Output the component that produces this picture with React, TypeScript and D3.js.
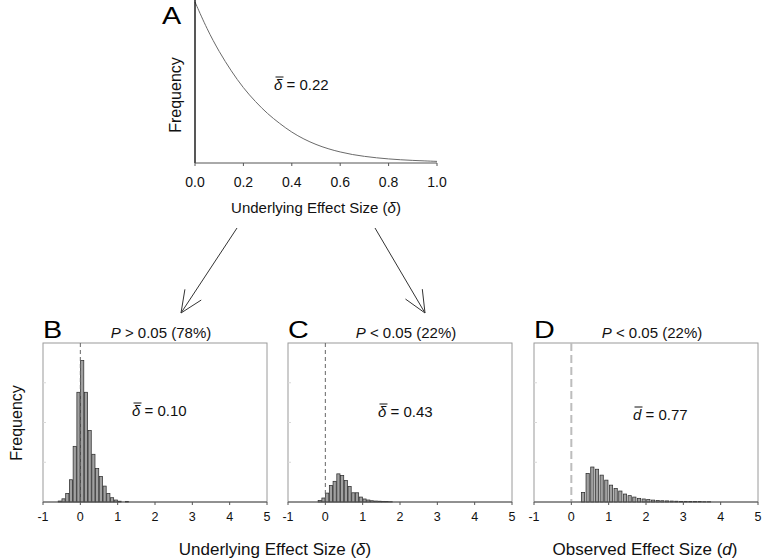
import React from "react";
import * as d3 from "d3";

// ---------- Data ----------
// Panel A: curve of underlying effect size distribution
const curveX = [0, 0.05, 0.1, 0.15, 0.2, 0.25, 0.3, 0.35, 0.4, 0.45, 0.5, 0.55, 0.6, 0.65, 0.7, 0.75, 0.8, 0.85, 0.9, 0.95, 1.0];
const curveY = [1.0, 0.83, 0.69, 0.57, 0.465, 0.38, 0.305, 0.245, 0.19, 0.148, 0.114, 0.088, 0.068, 0.052, 0.041, 0.032, 0.025, 0.02, 0.016, 0.013, 0.01];
const aTicks = [0, 0.2, 0.4, 0.6, 0.8, 1.0];

// Histograms
const histTicks = [-1, 0, 1, 2, 3, 4, 5];
const bStart = -0.6;
const bWidth = 0.1;
const bHeights = [0.006, 0.02, 0.054, 0.14, 0.35, 0.69, 0.89, 0.69, 0.45, 0.3, 0.21, 0.16, 0.1, 0.054, 0.027, 0.0125, 0.005, 0, 0.004];
const cStart = -0.2;
const cWidth = 0.1;
const cHeights = [0.01, 0.025, 0.056, 0.104, 0.13, 0.177, 0.167, 0.135, 0.098, 0.058, 0.058, 0.031, 0.019, 0.0125, 0.008, 0.006, 0.005, 0.004, 0.003, 0.002];
const dStart = 0.25;
const dWidth = 0.125;
const dHeights = [0.06, 0.18, 0.22, 0.206, 0.169, 0.1375, 0.106, 0.085, 0.069, 0.05, 0.04, 0.031, 0.023, 0.019, 0.015, 0.012, 0.01, 0.008, 0.007, 0.006, 0.005, 0.004, 0.004, 0.003, 0.003, 0.003, 0.002, 0.002];

const FONT = "'Liberation Sans', Arial, Helvetica, sans-serif";

type PanelProps = {
  left: number;
  letter: string;
  pSign: string;
  pText: string;
  start: number;
  width: number;
  heights: number[];
  barFrac: number;
  meanSym: string;
  meanVal: string;
  meanX: number;
  meanY: number;
  dashStyle: { stroke: string; width: number; dash: string };
};

const TOP = 343;
const BOTTOM = 502;
const PW = 224;

function Letter({ x, y, ch }: { x: number; y: number; ch: string }) {
  return (
    <text transform={`translate(${x},${y}) scale(1.25,1)`} fontSize={23} fontFamily={FONT} fill="#000">
      {ch}
    </text>
  );
}

function HistPanel(p: PanelProps) {
  const x = d3.scaleLinear().domain([-1, 5]).range([p.left, p.left + PW]);
  const y = d3.scaleLinear().domain([0, 1]).range([BOTTOM, TOP]);
  const bins = p.heights.map((h, i) => ({ x0: p.start + i * p.width, x1: p.start + (i + 1) * p.width, h }));
  const yTicks = [0.25, 0.5, 0.75];
  const fs = 15;
  return (
    <g>
      <rect x={p.left} y={TOP} width={PW} height={BOTTOM - TOP} fill="none" stroke="#9a9a9a" strokeWidth={1} />
      {yTicks.map((t) => (
        <line key={t} x1={p.left} x2={p.left + 3} y1={y(t)} y2={y(t)} stroke="#d8d8d8" strokeWidth={1} />
      ))}
      {bins.filter((b) => b.h > 0).map((b, i) => {
        const bw = x(b.x1) - x(b.x0);
        const w = bw * p.barFrac;
        return (
          <rect
            key={i}
            x={x(b.x0) + (bw - w) / 2}
            y={y(b.h)}
            width={w}
            height={BOTTOM - y(b.h)}
            fill="#a0a0a0"
            stroke="#2e2e2e"
            strokeWidth={0.75}
          />
        );
      })}
      <line
        x1={x(0)}
        x2={x(0)}
        y1={TOP}
        y2={BOTTOM}
        stroke={p.dashStyle.stroke}
        strokeWidth={p.dashStyle.width}
        strokeDasharray={p.dashStyle.dash}
      />
      <line x1={p.left} x2={p.left + PW} y1={BOTTOM} y2={BOTTOM} stroke="#555" strokeWidth={1} />
      {histTicks.map((t) => (
        <g key={t}>
          <line x1={x(t)} x2={x(t)} y1={BOTTOM} y2={BOTTOM + 3} stroke="#555" strokeWidth={1} />
          <text x={x(t)} y={521} textAnchor="middle" fontSize={12.5} fontFamily={FONT} fill="#111">
            {t}
          </text>
        </g>
      ))}
      <Letter x={p.left} y={338} ch={p.letter} />
      <text x={p.left + 118} y={338} textAnchor="middle" fontSize={15} fontFamily={FONT} fill="#111">
        <tspan fontStyle="italic">P</tspan>
        {" " + p.pSign + " " + p.pText}
      </text>
      <text x={p.meanX} y={p.meanY} fontSize={fs} fontFamily={FONT} fill="#111">
        <tspan fontStyle="italic">{p.meanSym}</tspan>
        {" = " + p.meanVal}
      </text>
      <line x1={p.meanX + 1.5} x2={p.meanX + 9.5} y1={p.meanY - 13} y2={p.meanY - 13} stroke="#111" strokeWidth={1} />
    </g>
  );
}

function Arrow({ x1, y1, x2, y2 }: { x1: number; y1: number; x2: number; y2: number }) {
  const ang = Math.atan2(y2 - y1, x2 - x1);
  const L = 24;
  const half = (24 * Math.PI) / 180;
  const a1x = x2 - L * Math.cos(ang - half);
  const a1y = y2 - L * Math.sin(ang - half);
  const a2x = x2 - L * Math.cos(ang + half);
  const a2y = y2 - L * Math.sin(ang + half);
  return (
    <g stroke="#333" strokeWidth={1} fill="none">
      <line x1={x1} y1={y1} x2={x2} y2={y2} />
      <polyline points={`${a1x},${a1y} ${x2},${y2} ${a2x},${a2y}`} />
    </g>
  );
}

export default function App() {
  const ax = d3.scaleLinear().domain([0, 1]).range([195, 437]);
  const ay = d3.scaleLinear().domain([0, 1]).range([163, 2]);
  const line = d3
    .line<number>()
    .x((_, i) => ax(curveX[i]))
    .y((v) => ay(v))
    .curve(d3.curveBasis);
  const path = line(curveY) || "";

  return (
    <svg
      width={762}
      height={559}
      style={{ position: "absolute", left: 0, top: 0, background: "#fff" }}
      fontFamily={FONT}
    >
      <rect x={0} y={0} width={762} height={559} fill="#fff" />
      {/* Panel A */}
      <Letter x={162} y={24} ch="A" />
      <path d={path} fill="none" stroke="#6a6a6a" strokeWidth={1} />
      <line x1={195} x2={195} y1={0} y2={163} stroke="#111" strokeWidth={1.4} />
      <line x1={195} x2={437} y1={163} y2={163} stroke="#555" strokeWidth={1} />
      {aTicks.map((t) => (
        <g key={t}>
          <line x1={ax(t)} x2={ax(t)} y1={163} y2={166} stroke="#555" strokeWidth={1} />
          <text x={ax(t)} y={187} textAnchor="middle" fontSize={14} fontFamily={FONT} fill="#111">
            {d3.format(".1f")(t)}
          </text>
        </g>
      ))}
      <text x={316} y={213} textAnchor="middle" fontSize={15} fontFamily={FONT} fill="#111">
        Underlying Effect Size (<tspan fontStyle="italic">δ</tspan>)
      </text>
      <text
        transform="translate(181,95) rotate(-90)"
        textAnchor="middle"
        fontSize={16}
        fontFamily={FONT}
        fill="#111"
      >
        Frequency
      </text>
      <text x={274} y={90} fontSize={15} fontFamily={FONT} fill="#111">
        <tspan fontStyle="italic">δ</tspan>
        {" = 0.22"}
      </text>
      <line x1={275.5} x2={283.5} y1={77} y2={77} stroke="#111" strokeWidth={1} />

      {/* Arrows */}
      <Arrow x1={237} y1={228} x2={181} y2={313} />
      <Arrow x1={375} y1={228} x2={425} y2={313} />

      {/* Panels */}
      <HistPanel
        left={43}
        letter="B"
        pSign=">"
        pText="0.05 (78%)"
        start={bStart}
        width={bWidth}
        heights={bHeights}
        barFrac={0.85}
        meanSym="δ"
        meanVal="0.10"
        meanX={132}
        meanY={416}
        dashStyle={{ stroke: "#666", width: 1, dash: "4,3" }}
      />
      <HistPanel
        left={288}
        letter="C"
        pSign="<"
        pText="0.05 (22%)"
        start={cStart}
        width={cWidth}
        heights={cHeights}
        barFrac={0.85}
        meanSym="δ"
        meanVal="0.43"
        meanX={378}
        meanY={417}
        dashStyle={{ stroke: "#666", width: 1, dash: "4,3" }}
      />
      <HistPanel
        left={534}
        letter="D"
        pSign="<"
        pText="0.05 (22%)"
        start={dStart}
        width={dWidth}
        heights={dHeights}
        barFrac={0.7}
        meanSym="d"
        meanVal="0.77"
        meanX={633}
        meanY={420}
        dashStyle={{ stroke: "#bdbdbd", width: 2, dash: "8,4" }}
      />
      <text
        transform="translate(22,423) rotate(-90)"
        textAnchor="middle"
        fontSize={16}
        fontFamily={FONT}
        fill="#111"
      >
        Frequency
      </text>

      <text x={275} y={555} textAnchor="middle" fontSize={17} fontFamily={FONT} fill="#111">
        Underlying Effect Size (<tspan fontStyle="italic">δ</tspan>)
      </text>
      <text x={645} y={555} textAnchor="middle" fontSize={17} fontFamily={FONT} fill="#111">
        Observed Effect Size (<tspan fontStyle="italic">d</tspan>)
      </text>
    </svg>
  );
}
